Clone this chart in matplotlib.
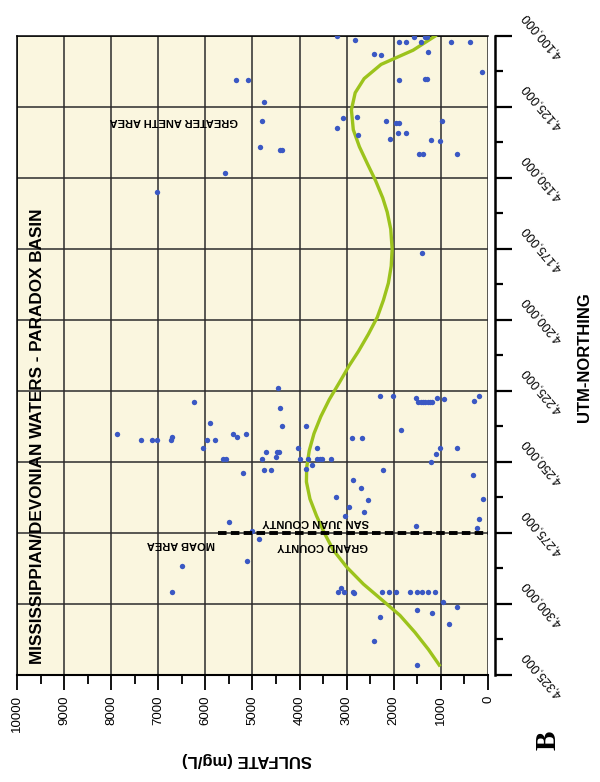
import matplotlib
matplotlib.use('Agg')
import matplotlib.pyplot as plt
from matplotlib.ticker import MultipleLocator

plt.rcParams['font.family'] = ['Liberation Sans', 'DejaVu Sans']

# sample points (UTM northing, sulfate mg/L)
aneth_northing = [4100000, 4101400, 4102000, 4102000, 4100200, 4102000, 4100200, 4100200,
                  4102000, 4102000, 4105500, 4106300, 4106800, 4112600, 4115600, 4115200,
                  4115200, 4128800, 4128600, 4132400, 4129800, 4130600, 4130600, 4129900,
                  4134900, 4136400, 4134200, 4134200, 4136600, 4137000, 4141700, 4141700,
                  4141700, 4115500, 4115500, 4123100, 4129900, 4139100, 4140200, 4140200,
                  4148100, 4154800, 4176500]
aneth_sulfate = [3200, 2820, 1900, 1740, 1580, 1420, 1345, 1300,
                 790, 375, 1275, 2410, 2280, 125, 1890, 1345,
                 1290, 3070, 2780, 3200, 2160, 1950, 1900, 970,
                 2750, 2080, 1920, 1740, 1210, 1025, 1460, 1375,
                 665, 5360, 5100, 4755, 4790, 4840, 4420, 4370,
                 5590, 7030, 1410]

central_northing = [4226700, 4226700, 4227600, 4228800, 4228800, 4228800, 4228800, 4228800,
                    4228800, 4228800, 4227600, 4227800, 4228400, 4226800, 4237200, 4238900,
                    4241400, 4241400, 4245100, 4245100, 4245000, 4245000, 4247300, 4249000,
                    4249000, 4249000, 4249000, 4249000, 4249000, 4250000, 4252600, 4251100,
                    4252800, 4254700, 4256500, 4259000, 4224100, 4229000, 4230900, 4236400,
                    4237300, 4240300, 4240300, 4241200, 4240300, 4242400, 4242400, 4242400,
                    4241100, 4242400, 4242400, 4242400, 4245000, 4246400, 4246400, 4246400,
                    4248300, 4249000, 4249000, 4249000, 4252700, 4252700, 4253900]
central_sulfate = [2300, 2010, 1530, 1480, 1430, 1380, 1330, 1280,
                   1230, 1180, 1090, 930, 290, 185, 3870, 1855,
                   2895, 2680, 4025, 3630, 1025, 665, 1110, 3990,
                   3830, 3640, 3570, 3525, 3335, 1205, 3870, 3745,
                   2220, 310, 2860, 2695, 4450, 6240, 4425, 5910,
                   4380, 7880, 5410, 5325, 5145, 7360, 7125, 7020,
                   6715, 6725, 5975, 5805, 6055, 4715, 4490, 4430,
                   4500, 5620, 5565, 4800, 4755, 4600, 5195]

moab_northing = [4271000, 4274300, 4277200, 4284900, 4286600, 4295700, 4262200, 4263400,
                 4265700, 4269000, 4267700, 4263100, 4270000, 4273100, 4272500,
                 4295700, 4294300, 4295700, 4295700, 4296000, 4295700, 4295700, 4295700,
                 4295700, 4295700, 4295700, 4295700, 4295700,
                 4299400, 4301100, 4302100, 4303000, 4304500, 4307200, 4313000, 4321500]
moab_sulfate = [5500, 5000, 4860, 5125, 6505, 6715, 3220, 2555,
                2950, 3035, 2625, 115, 185, 225, 1535,
                3180, 3120, 3060, 2860, 2840, 2255, 2100, 1960,
                1655, 1515, 1410, 1265, 1125,
                960, 665, 1515, 1195, 2295, 820, 2420, 1515]

# trend curve
trend_northing = [4100000, 4105000, 4110000, 4115000, 4120000, 4126000, 4133000, 4139000,
                  4145000, 4151000, 4157000, 4162000, 4168000, 4175000, 4181000, 4187000,
                  4193000, 4199000, 4205000, 4211000, 4216000, 4222000, 4228000, 4234000,
                  4240000, 4246000, 4252000, 4257000, 4263000, 4269000, 4275000, 4281000,
                  4287000, 4293000, 4299000, 4304000, 4310000, 4316000, 4321500]
trend_sulfate = [1120, 1590, 2270, 2630, 2820, 2900, 2860, 2730,
                 2560, 2385, 2235, 2140, 2065, 2035, 2055, 2115,
                 2220, 2350, 2540, 2750, 2945, 3155, 3370, 3550,
                 3695, 3795, 3850, 3855, 3780, 3640, 3475, 3285,
                 3000, 2645, 2220, 1870, 1550, 1265, 1035]

county_line_northing = 4275000
county_line_sulfate = [5730, 0]

sulfate_ticks = list(range(0, 10001, 1000))
northing_ticks = list(range(4100000, 4325001, 25000))

fig = plt.figure(figsize=(6, 7.82), dpi=100)
ax = fig.add_axes([17 / 600, 107 / 782, 471 / 600, 639 / 782])
ax.set_facecolor('#faf6df')

ax.set_xlim(10000, 0)
ax.set_ylim(4325000, 4100000)
ax.set_axisbelow(True)
ax.grid(True, color='#2b2b2b', linewidth=1.1)

ax.plot(trend_sulfate, trend_northing, color='#9cc31c', linewidth=2.4, zorder=3)
dot_color = '#3a58c4'
ax.scatter(aneth_sulfate, aneth_northing, s=15, color=dot_color, zorder=4, linewidths=0)
ax.scatter(central_sulfate, central_northing, s=15, color=dot_color, zorder=4, linewidths=0)
ax.scatter(moab_sulfate, moab_northing, s=15, color=dot_color, zorder=4, linewidths=0)

ax.plot(county_line_sulfate, [county_line_northing] * 2, color='black', linewidth=2.8,
        linestyle=(0, (2.2, 1.1)), zorder=5)

lab = dict(fontsize=8, fontweight='bold', rotation=180, ha='center', va='center', zorder=6)
ax.text(6680, 4129900, 'GREATER ANETH AREA', **lab)
ax.text(6520, 4278900, 'MOAB AREA', **lab)
ax.text(3520, 4279600, 'GRAND COUNTY', **lab)
ax.text(3650, 4271100, 'SAN JUAN COUNTY', **lab)

# x axis (sulfate) along the bottom
ax.set_xticks(sulfate_ticks)
ax.set_xticklabels([str(v) for v in sulfate_ticks])
ax.xaxis.set_minor_locator(MultipleLocator(500))
ax.tick_params(axis='x', which='major', length=11, width=1.3, pad=3.5, direction='out',
               labelsize=9.5, labelrotation=90)
ax.tick_params(axis='x', which='minor', length=6.5, width=1.3, direction='out')

# y axis (northing) on the right
ax.yaxis.tick_right()
ax.set_yticks(northing_ticks)
ax.set_yticklabels([f'{v:,}' for v in northing_ticks])
ax.yaxis.set_minor_locator(MultipleLocator(12500))
ax.tick_params(axis='y', which='major', length=12, width=1.6, pad=6, direction='out',
               labelsize=9, labelrotation=130)
ax.tick_params(axis='y', which='minor', length=6, width=1.6, direction='out')

ax.spines['right'].set_position(('outward', 5))
ax.spines['right'].set_linewidth(1.8)
ax.spines['bottom'].set_linewidth(1.5)
ax.spines['top'].set_linewidth(1.1)
ax.spines['left'].set_linewidth(1.1)

for t in ax.get_yticklabels():
    t.set_va('center')
    t.set_ha('left')

fig.text(38 / 600, 1 - 436 / 782, 'MISSISSIPPIAN/DEVONIAN WATERS - PARADOX BASIN',
         rotation=90, ha='center', va='center', fontsize=12.3, fontweight='bold')
fig.text(247 / 600, 1 - 760 / 782, 'SULFATE (mg/L)', rotation=180,
         ha='center', va='center', fontsize=12, fontweight='bold')
fig.text(585 / 600, 1 - 357 / 782, 'UTM-NORTHING', rotation=90,
         ha='center', va='center', fontsize=12, fontweight='bold')
fig.text(548 / 600, 1 - 740 / 782, 'B', rotation=90, ha='center', va='center',
         fontsize=21, fontweight='bold', family=['Liberation Serif', 'DejaVu Serif'])

fig.savefig('out.png', dpi=100)
